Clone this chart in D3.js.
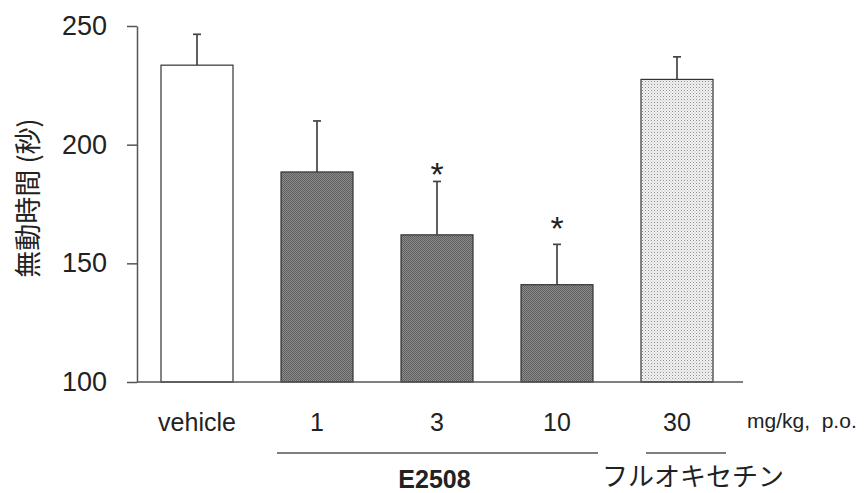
<!DOCTYPE html>
<html><head><meta charset="utf-8">
<script src="https://cdn.jsdelivr.net/npm/d3@7"></script>
<style>body{margin:0;background:#fff}svg{display:block}</style>
</head><body>
<svg id="c" width="864" height="493"></svg>
<script>
const categories = ["vehicle","1","3","10","30"];
const means = [233.5, 188.5, 162, 141, 227.5];
const errTop = [246.5, 210, 184.5, 158, 237];
const fills = ["white","dark","dark","dark","light"];
const starAt = [null, null, 193, 170, null];
const yTicks = [100,150,200,250];
const groups = [{label:"E2508", from:"1", to:"10", bold:true},{label:"フルオキセチン", from:"30", to:"30", bold:false}];

const svg = d3.select("#c");
const defs = svg.append("defs");
const pd = defs.append("pattern").attr("id","dark").attr("width",2).attr("height",2).attr("patternUnits","userSpaceOnUse");
pd.append("rect").attr("width",2).attr("height",2).attr("fill","#8c8c8c");
pd.append("rect").attr("width",1).attr("height",1).attr("fill","#5e5e5e");
pd.append("rect").attr("x",1).attr("y",1).attr("width",1).attr("height",1).attr("fill","#5e5e5e");
const pl = defs.append("pattern").attr("id","light").attr("width",3).attr("height",3).attr("patternUnits","userSpaceOnUse");
pl.append("rect").attr("width",3).attr("height",3).attr("fill","#f4f4f4");
pl.append("rect").attr("width",1).attr("height",1).attr("fill","#8a8a8a");
pl.append("rect").attr("x",1.5).attr("y",1.5).attr("width",1).attr("height",1).attr("fill","#b0b0b0");

const x = d3.scaleBand().domain(categories).range([137,737]).paddingInner(0.4).paddingOuter(0.2);
const y = d3.scaleLinear().domain([100,250]).range([382,26]);
const font = "Liberation Sans, Arial, sans-serif";
const jfont = "Noto Sans CJK JP, sans-serif";

const data = categories.map((c,i)=>({c, m:means[i], e:errTop[i], f:fills[i], s:starAt[i]}));
const cx = d => x(d.c)+x.bandwidth()/2;
svg.selectAll("line.err").data(data).enter().append("line")
  .attr("x1",cx).attr("x2",cx)
  .attr("y1",d=>y(d.m)).attr("y2",d=>y(d.e)).attr("stroke","#444").attr("stroke-width",1.7);
svg.selectAll("line.cap").data(data).enter().append("line")
  .attr("x1",d=>cx(d)-4).attr("x2",d=>cx(d)+4)
  .attr("y1",d=>y(d.e)).attr("y2",d=>y(d.e)).attr("stroke","#444").attr("stroke-width",1.7);
svg.selectAll("rect.bar").data(data).enter().append("rect")
  .attr("x",d=>x(d.c)).attr("width",x.bandwidth())
  .attr("y",d=>y(d.m)).attr("height",d=>y(100)-y(d.m))
  .attr("fill",d=>d.f==="white"?"#fff":`url(#${d.f})`)
  .attr("stroke","#333").attr("stroke-width",1.2);
svg.selectAll("text.star").data(data.filter(d=>d.s!==null)).enter().append("text")
  .attr("x",cx).attr("y",d=>y(d.s)).attr("dy","0.72em")
  .attr("text-anchor","middle").attr("font-family",font).attr("font-size",34).attr("fill","#222").text("*");

// y axis
const ya = svg.append("g").attr("transform","translate(137,0)")
  .call(d3.axisLeft(y).tickValues(yTicks).tickSize(10).tickPadding(20).tickSizeOuter(0));
ya.select(".domain").attr("stroke","#555").attr("stroke-width",1.5);
ya.selectAll(".tick line").attr("stroke","#555").attr("stroke-width",1.5);
ya.selectAll("text").attr("font-family",font).attr("font-size",27).attr("fill","#222");
svg.append("line").attr("x1",137).attr("x2",743).attr("y1",y(100)).attr("y2",y(100)).attr("stroke","#555").attr("stroke-width",1.5);

// y label
svg.append("text").attr("transform",`translate(38,${(y(100)+y(250))/2-6}) rotate(-90)`)
  .attr("text-anchor","middle").attr("font-family",jfont).attr("font-size",27).attr("fill","#222")
  .text("無動時間 (秒)");

// x labels
svg.selectAll("text.xl").data(categories).enter().append("text")
  .attr("x",d=>x(d)+x.bandwidth()/2).attr("y",431).attr("text-anchor","middle")
  .attr("font-family",font).attr("font-size",25).attr("fill","#222").text(d=>d);
svg.append("text").attr("x",747).attr("y",428).attr("font-family",font).attr("font-size",21).attr("fill","#222").attr("xml:space","preserve").text("mg/kg,  p.o.");

// group lines
groups.forEach(g=>{
  const single = g.from===g.to;
  const xl1 = single ? x(g.from)+5 : x(g.from)-4;
  const xl2 = single ? x(g.to)+x.bandwidth()+13 : x(g.to)+x.bandwidth()+5;
  svg.append("line").attr("x1",xl1).attr("x2",xl2).attr("y1",453).attr("y2",453).attr("stroke","#555").attr("stroke-width",1.4);
  svg.append("text").attr("x",single ? (xl1+xl2)/2+7 : (xl1+xl2)/2-3).attr("y",single?486:488).attr("text-anchor","middle")
    .attr("font-family", g.bold?font:jfont).attr("font-weight",g.bold?"bold":"normal")
    .attr("font-size",g.bold?25:26).attr("fill","#222").text(g.label);
});
</script>
</body></html>
